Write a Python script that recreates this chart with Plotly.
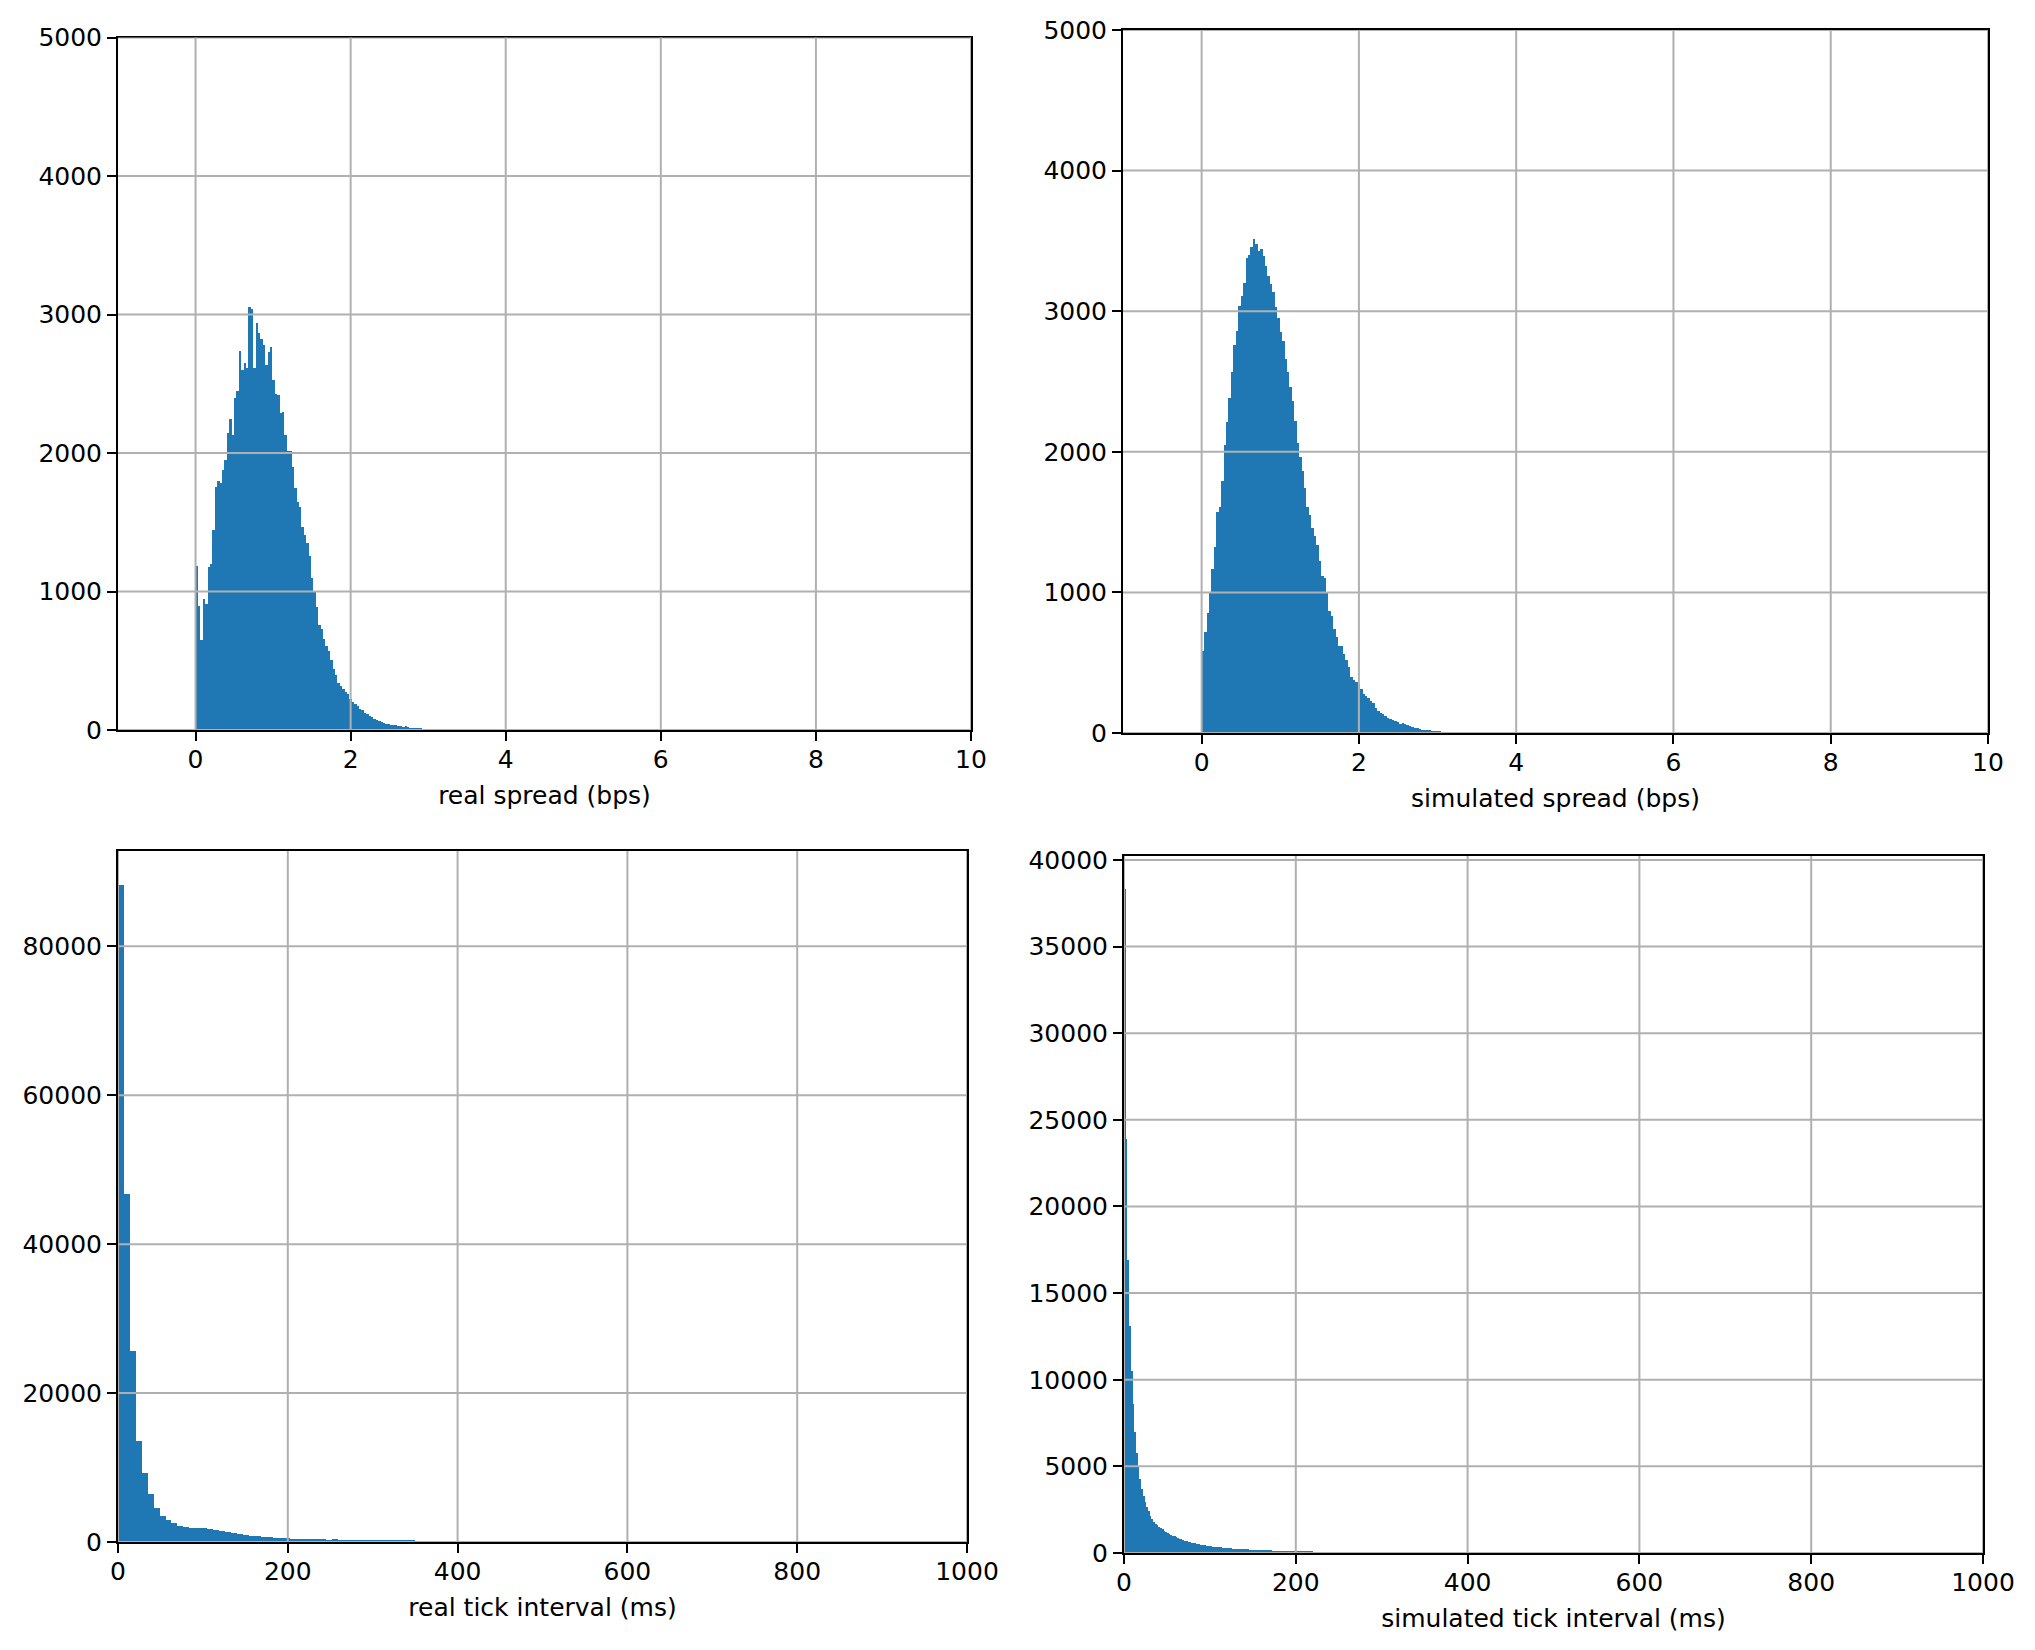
import plotly.graph_objects as go

BAR_COLOR = '#1f77b4'
GRID_COLOR = '#b0b0b0'
FONT = 'DejaVu Sans'

# histogram counts, bins start at 0
real_spread_bin = 0.031  # bps
real_spread_counts = [
    1190, 900, 650, 950, 915, 1180, 1200, 1450, 1760, 1800,
    1790, 1880, 1950, 2150, 2250, 2130, 2400, 2450, 2740, 2600,
    2650, 2620, 3060, 3040, 2620, 2940, 2870, 2830, 2780, 2640,
    2730, 2770, 2530, 2430, 2420, 2290, 2300, 2130, 2020, 2020,
    1900, 1750, 1650, 1610, 1470, 1410, 1350, 1260, 1100, 1010,
    890, 760, 730, 660, 610, 570, 505, 445, 400, 340,
    320, 300, 280, 260, 230, 205, 190, 175, 155, 145,
    128, 120, 103, 96, 84, 77, 67, 60, 53, 46,
    43, 41, 38, 36, 34, 29, 24, 29, 22, 19,
    17, 17, 14, 14, 12, 12, 11, 12, 10, 9,
    10, 8, 7, 8, 6, 7, 5, 6,
]

sim_spread_bin = 0.031  # bps
sim_spread_counts = [
    580, 720, 850, 1000, 1170, 1320, 1570, 1610, 1790, 2050,
    2210, 2380, 2570, 2760, 2860, 3040, 3110, 3200, 3380, 3400,
    3460, 3510, 3480, 3430, 3440, 3390, 3320, 3250, 3190, 3140,
    3030, 2950, 2850, 2790, 2660, 2570, 2460, 2360, 2220, 2060,
    1960, 1860, 1740, 1610, 1550, 1460, 1400, 1340, 1220, 1120,
    1100, 1000, 870, 830, 740, 680, 620, 620, 560, 520,
    470, 400, 380, 360, 350, 310, 280, 265, 250, 230,
    210, 180, 160, 140, 135, 120, 110, 98, 91, 86,
    79, 67, 72, 62, 57, 50, 43, 38, 33, 29,
    24, 24, 19, 19, 14, 12, 10, 9, 7, 7,
    5, 3, 3,
]

real_tick_bin = 7  # ms
real_tick_counts = [
    88300, 46800, 25600, 13600, 9300, 6400, 4600, 3500, 2900, 2600,
    2200, 2050, 1900, 1850, 1900, 1750, 1600, 1500, 1350, 1250,
    1100, 1000, 860, 800, 700, 620, 560, 520, 480, 460,
    450, 400, 380, 370, 360, 320, 420, 310, 300, 290,
    290, 280, 270, 270, 260, 250, 250, 240, 230, 260,
]

sim_tick_bin = 2  # ms
sim_tick_counts = [
    38300, 23900, 16900, 13100, 10500, 8600, 7000, 5800, 5000, 4300,
    3700, 3300, 2950, 2650, 2400, 2150, 1950, 1800, 1700, 1600,
    1500, 1430, 1360, 1290, 1230, 1170, 1110, 1060, 1010, 960,
    910, 870, 830, 790, 750, 720, 690, 660, 630, 600,
    580, 560, 540, 510, 490, 470, 455, 440, 420, 405,
    390, 375, 360, 350, 340, 330, 320, 310, 300, 290,
    285, 275, 270, 260, 255, 250, 245, 240, 235, 230,
    222, 215, 208, 200, 195, 190, 185, 180, 175, 170,
    165, 160, 160, 155, 150, 145, 140, 138, 135, 130,
    125, 120, 118, 115, 110, 108, 105, 102, 100, 98,
    95, 90, 85, 82, 80, 75, 70, 65, 62, 60,
    55, 50, 45, 40, 35, 30, 40, 25, 30, 20,
]

spread_xticks = [0, 2, 4, 6, 8, 10]
spread_yticks = [0, 1000, 2000, 3000, 4000, 5000]
interval_xticks = [0, 200, 400, 600, 800, 1000]
real_interval_yticks = [0, 20000, 40000, 60000, 80000]
sim_interval_yticks = [0, 5000, 10000, 15000, 20000, 25000, 30000, 35000, 40000]


def bin_centers(width, counts):
    return [width * (i + 0.5) for i in range(len(counts))]


W, H = 2035, 1650

panels = [
    dict(n='', counts=real_spread_counts, width=real_spread_bin,
         title='real spread (bps)', xrange=[-1, 10], yrange=[0, 5000],
         xticks=spread_xticks, yticks=spread_yticks,
         xdom=[118 / W, 971 / W], ydom=[1 - 730 / H, 1 - 37.6 / H]),
    dict(n='2', counts=sim_spread_counts, width=sim_spread_bin,
         title='simulated spread (bps)', xrange=[-1, 10], yrange=[0, 5000],
         xticks=spread_xticks, yticks=spread_yticks,
         xdom=[1123 / W, 1988 / W], ydom=[1 - 733 / H, 1 - 30 / H]),
    dict(n='3', counts=real_tick_counts, width=real_tick_bin,
         title='real tick interval (ms)', xrange=[0, 1000], yrange=[0, 92800],
         xticks=interval_xticks, yticks=real_interval_yticks,
         xdom=[118 / W, 967 / W], ydom=[1 - 1542 / H, 1 - 851 / H]),
    dict(n='4', counts=sim_tick_counts, width=sim_tick_bin,
         title='simulated tick interval (ms)', xrange=[0, 1000], yrange=[0, 40230],
         xticks=interval_xticks, yticks=sim_interval_yticks,
         xdom=[1124 / W, 1983 / W], ydom=[1 - 1553 / H, 1 - 856 / H]),
]

fig = go.Figure()
shapes = []
layout = {}

for p in panels:
    xa, ya = 'x' + p['n'], 'y' + p['n']
    fig.add_trace(go.Bar(
        x=bin_centers(p['width'], p['counts']),
        y=p['counts'],
        width=p['width'],
        marker=dict(color=BAR_COLOR, line=dict(width=0)),
        xaxis=xa, yaxis=ya,
        showlegend=False,
    ))

    common = dict(
        showline=True, linecolor='black', linewidth=2, mirror=True,
        ticks='outside', ticklen=9, tickwidth=2, tickcolor='black',
        showgrid=False, zeroline=False, layer='above traces',
        automargin=False,
        tickfont=dict(family=FONT, size=25, color='black'),
    )
    layout['xaxis' + p['n']] = dict(
        common, domain=p['xdom'], range=p['xrange'], anchor=ya,
        tickmode='array', tickvals=p['xticks'], ticklabelstandoff=-3,
        title=dict(text=p['title'], standoff=13,
                   font=dict(family=FONT, size=25, color='black')),
    )
    layout['yaxis' + p['n']] = dict(
        common, domain=p['ydom'], range=p['yrange'], anchor=xa,
        tickmode='array', tickvals=p['yticks'], tickformat='d',
    )

    # matplotlib draws the grid on top of the bars
    for t in p['xticks']:
        shapes.append(dict(type='line', xref=xa, yref=ya + ' domain',
                           x0=t, x1=t, y0=0, y1=1, layer='above',
                           line=dict(color=GRID_COLOR, width=2)))
    for t in p['yticks']:
        shapes.append(dict(type='line', xref=xa + ' domain', yref=ya,
                           x0=0, x1=1, y0=t, y1=t, layer='above',
                           line=dict(color=GRID_COLOR, width=2)))

fig.update_layout(
    width=W, height=H,
    margin=dict(l=0, r=0, t=0, b=0),
    paper_bgcolor='white', plot_bgcolor='white',
    bargap=0,
    font=dict(family=FONT, size=25, color='black'),
    shapes=shapes,
    **layout,
)

# drop the browser's default body margin so the figure sits at the page origin
fig.write_html("out.html", config={'displayModeBar': False},
               post_script="document.body.style.margin = '0px';")
